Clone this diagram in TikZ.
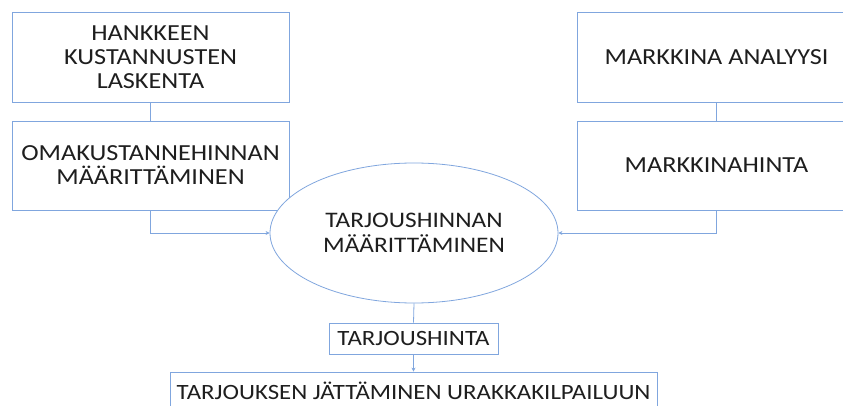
\documentclass[tikz,border=0pt]{standalone}
\usepackage{fontspec}
\setmainfont{Carlito}
\newfontfamily\widefont[FakeStretch=1.14]{Carlito}
\usetikzlibrary{shapes.geometric,arrows.meta}
\definecolor{lineblue}{RGB}{128,166,222}
\definecolor{txt}{RGB}{30,30,30}
\tikzset{
  box/.style={draw=lineblue, line width=0.8pt, fill=white, align=center, inner sep=0pt, text=txt,
    font=\widefont\fontsize{23}{24}\selectfont},
  small/.style={font=\widefont\fontsize{21.8}{24}\selectfont},
  conn/.style={draw=lineblue, line width=0.8pt},
  arr/.style={conn, -{Stealth[length=4pt,width=4pt]}}
}
\begin{document}
\begin{tikzpicture}[x=1pt,y=-1pt]
\useasboundingbox (0,0) rectangle (843,406);
\clip (0,0) rectangle (843,406);
\node[box, minimum width=277pt, minimum height=90pt] (lb1) at (150.5,57) {HANKKEEN\\KUSTANNUSTEN\\LASKENTA};
\node[box, minimum width=277pt, minimum height=89pt] (lb2) at (150.5,165.5) {OMAKUSTANNEHINNAN\\MÄÄRITTÄMINEN};
\node[box, minimum width=279pt, minimum height=90pt] (rb1) at (716.5,57) {MARKKINA ANALYYSI};
\node[box, minimum width=279pt, minimum height=89pt] (rb2) at (716.5,165.5) {MARKKINAHINTA};
\node[box, ellipse, minimum width=288pt, minimum height=140pt, font=\widefont\fontsize{22.2}{24.5}\selectfont] (ell) at (414,233) {TARJOUSHINNAN\\MÄÄRITTÄMINEN};
\node[box, small, minimum width=169pt, minimum height=31pt] (th) at (413.5,338.5) {TARJOUSHINTA};
\node[box, small, minimum width=487pt, minimum height=38pt] (big) at (413.5,391) {TARJOUKSEN JÄTTÄMINEN URAKKAKILPAILUUN};
\draw[conn] (lb1.south) -- (lb2.north);
\draw[conn] (rb1.south) -- (rb2.north);
\draw[arr] (lb2.south) |- (ell.west);
\draw[arr] (rb2.south) |- (ell.east);
\draw[conn] (ell.south) -- (th.north);
\draw[arr] (th.south) -- (big.north);
\end{tikzpicture}
\end{document}
